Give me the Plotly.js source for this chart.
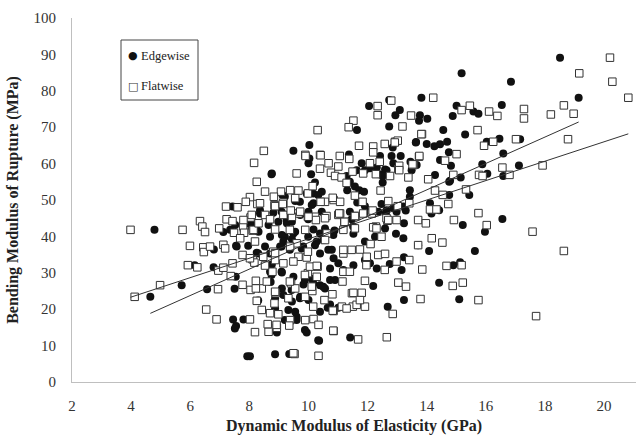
<!DOCTYPE html>
<html><head><meta charset="utf-8">
<script src="https://cdn.plot.ly/plotly-3.0.1.min.js"></script>
<style>html,body{margin:0;padding:0;background:#fff}#chart{width:636px;height:436px}</style>
</head><body><div id="chart"></div>
<script>
// Edgewise (filled circles): dynamic MOE (GPa), bending MOR (MPa)
const edgeX = [4.79,4.65,5.71,6.15,6.79,6.80,6.57,7.12,7.55,7.96,8.25,7.54,7.50,7.45,7.80,7.55,7.51,7.93,7.96,8.13,7.43,8.87,9.35,9.94,10.36,11.41,8.93,8.87,9.60,9.55,9.32,8.87,9.44,9.72,9.83,9.10,8.72,9.10,8.76,10.13,10.39,10.65,10.73,11.01,11.18,10.56,10.73,10.85,10.90,8.30,8.25,8.70,9.20,9.49,9.99,10.39,10.84,11.52,11.91,12.25,12.96,13.21,12.59,13.23,12.98,14.17,8.36,8.81,9.26,9.99,11.40,9.09,9.37,9.82,10.28,10.39,10.67,11.01,11.52,11.91,12.31,13.15,8.70,9.09,8.75,9.49,9.88,10.16,10.50,10.73,9.43,9.15,9.71,10.00,10.39,9.60,9.20,12.19,13.23,12.68,9.88,10.33,8.30,8.70,14.08,14.42,8.02,9.49,8.76,10.09,10.22,10.45,9.94,9.55,9.12,8.36,10.17,10.45,9.72,9.27,8.98,8.65,8.08,7.80,7.35,8.31,9.27,10.17,10.56,10.88,9.10,9.55,9.44,7.57,8.53,9.15,9.44,9.04,9.77,10.22,10.51,10.79,10.03,7.52,13.82,12.05,12.73,13.09,12.94,13.77,13.74,14.02,11.64,12.73,14.56,13.64,12.85,14.00,14.26,14.45,10.03,10.00,11.37,12.42,12.81,13.12,14.45,11.80,12.08,8.75,11.29,11.40,11.91,12.31,12.59,12.40,12.51,11.57,11.72,11.88,11.31,11.91,12.47,12.62,12.87,13.21,13.43,13.43,13.49,13.66,14.28,14.76,14.11,10.16,9.71,9.20,8.92,9.09,10.00,10.11,10.33,13.63,14.69,14.75,13.45,12.87,12.64,11.63,12.51,14.76,14.42,14.16,11.65,11.96,12.36,12.64,13.29,11.46,11.51,13.71,13.23,12.75,12.08,14.90,15.10,18.51,15.18,16.85,19.14,15.01,15.58,16.54,14.88,15.75,15.30,16.03,16.46,17.16,14.82,16.59,15.88,17.12,15.15,14.79,16.05,16.59,15.44,16.56,15.22,15.97,15.63,15.13];
const edgeY = [41.8,23.4,26.6,32.1,31.5,36.4,25.5,41.2,37.4,37.4,35.5,28.9,25.6,17.2,17.2,15.4,14.7,7.1,43.6,43.1,48.2,7.6,7.7,13.6,11.3,12.2,13.6,20.2,17.0,19.3,19.8,23.0,22.1,23.4,26.8,25.7,27.5,30.1,32.3,28.3,26.6,20.4,21.3,20.4,30.8,25.7,31.2,34.0,28.0,22.4,41.8,39.9,39.9,40.8,39.9,40.8,40.4,40.7,38.6,39.9,40.7,39.5,42.2,43.6,46.8,46.8,46.3,46.5,44.5,44.7,46.8,37.2,36.3,37.2,38.6,35.3,36.3,32.6,32.1,33.5,31.2,30.8,30.3,30.3,29.4,28.9,28.0,27.1,26.2,28.0,25.3,23.9,23.0,22.5,19.3,17.9,17.0,26.4,22.5,20.7,14.3,11.5,35.3,35.3,36.0,27.3,7.1,63.5,57.3,57.1,54.8,52.3,51.8,49.7,51.4,47.2,49.1,46.8,45.9,45.9,44.0,43.1,42.5,41.9,41.8,41.3,43.6,41.9,42.2,41.6,40.4,41.3,44.0,37.2,37.2,38.6,39.2,37.2,36.7,37.6,39.0,36.3,65.1,43.1,78.1,75.8,77.5,74.7,73.3,73.3,71.8,72.3,69.2,70.2,69.2,65.9,64.4,65.4,64.8,65.3,61.4,60.1,62.5,62.1,62.1,62.1,61.0,60.1,58.7,57.1,56.6,55.0,58.2,58.9,58.4,57.1,54.8,53.7,52.7,52.3,52.7,48.3,48.9,46.5,47.7,48.2,52.7,50.9,58.2,59.6,56.9,51.4,49.1,51.8,49.5,50.9,48.2,46.8,46.8,48.6,51.4,65.8,66.0,63.1,60.5,60.1,58.2,58.2,56.6,55.0,47.2,46.3,49.3,46.8,46.8,47.2,47.1,44.7,42.7,37.6,34.3,32.4,32.6,32.1,22.7,89.1,84.8,82.5,78.1,75.9,74.3,76.1,73.1,73.7,68.0,66.0,66.8,66.7,59.4,62.8,59.8,59.5,56.2,55.3,57.2,56.6,51.4,44.8,43.1,41.3,36.0,32.9];

// Flatwise (open squares)
const flatX = [3.98,5.74,6.33,6.41,6.50,7.23,7.43,6.98,7.48,7.79,7.82,8.04,8.11,5.99,6.44,6.46,6.67,7.12,8.19,5.92,6.24,6.95,7.12,7.43,7.77,8.11,8.17,4.98,4.12,6.94,7.77,8.04,7.37,8.22,8.25,6.54,6.89,8.02,8.19,8.16,8.25,8.02,7.21,7.60,8.27,9.53,10.34,10.85,8.65,8.62,8.93,8.42,8.70,8.98,9.38,9.89,10.17,10.34,9.35,8.89,8.85,9.32,9.89,10.13,9.41,8.42,8.59,8.78,8.53,8.22,10.54,10.85,11.13,11.50,11.15,11.47,10.81,10.31,9.98,10.11,9.55,8.53,9.15,9.66,10.22,10.61,11.01,11.21,11.61,12.28,12.67,12.98,13.71,13.97,14.17,14.53,13.71,10.84,11.68,12.65,12.85,13.79,14.67,13.85,13.04,13.30,11.91,11.29,10.82,8.87,9.37,8.92,10.16,11.63,11.91,11.52,11.80,11.74,12.36,12.59,11.97,11.18,11.46,11.74,11.18,11.40,10.28,9.88,9.66,9.94,10.05,10.28,9.60,9.37,8.81,8.02,8.47,8.87,9.15,9.49,12.98,13.41,9.49,8.53,9.07,9.38,9.60,9.89,10.39,10.68,11.01,7.88,8.36,8.85,9.15,9.55,9.98,10.56,10.85,11.07,7.80,8.70,9.44,9.72,9.98,10.25,10.56,11.07,11.22,8.14,8.31,8.87,9.89,10.62,11.18,7.69,9.38,9.98,10.56,11.18,7.18,8.87,14.22,12.34,12.34,12.80,13.47,11.52,11.36,10.31,13.18,13.84,12.93,13.02,12.58,11.71,12.19,12.19,8.49,9.90,10.41,11.06,11.38,13.74,14.62,10.39,8.83,9.66,10.14,10.41,10.82,10.76,10.90,11.12,11.29,11.49,11.85,12.08,12.28,12.76,13.04,13.38,13.55,14.05,14.28,14.54,12.44,12.70,13.02,13.41,14.11,11.83,11.57,8.87,9.13,9.40,10.00,11.04,12.14,12.64,8.08,13.82,12.92,15.01,13.75,13.52,12.41,13.07,13.07,14.90,14.73,14.33,12.17,11.85,11.57,11.57,12.19,12.30,12.47,12.70,14.92,12.10,11.96,12.58,20.20,19.16,20.28,20.82,15.18,15.46,16.11,16.39,17.29,17.29,18.20,18.64,18.97,15.72,15.94,16.25,17.02,18.78,16.56,17.92,15.77,15.89,16.80,15.33,15.75,16.03,17.58,18.64,15.18,14.88,15.22,15.75,17.70];
const flatY = [41.8,41.8,44.2,42.7,41.2,44.7,44.2,42.2,41.0,42.9,41.0,45.2,41.6,37.4,37.0,35.7,37.2,37.7,38.6,32.1,31.5,30.6,31.4,32.6,34.9,33.7,32.8,26.6,23.4,25.5,26.7,25.3,29.1,27.8,22.3,19.9,17.2,17.2,13.7,60.2,55.0,50.8,48.2,48.0,48.9,7.7,7.2,14.0,13.8,15.9,14.9,19.8,18.9,18.6,17.0,17.0,17.3,15.7,15.5,24.4,21.6,23.0,23.4,25.0,27.1,25.7,27.6,30.3,32.0,25.7,22.5,19.5,20.7,20.7,27.6,24.4,24.1,31.7,29.9,26.2,25.7,45.9,45.9,46.3,45.4,45.6,45.9,44.0,45.6,42.7,44.3,44.5,44.5,43.6,39.5,38.3,37.6,14.1,11.7,12.3,18.7,22.8,31.9,30.9,27.3,26.2,27.8,20.2,19.6,24.8,27.6,15.7,20.7,21.2,20.7,24.5,24.5,22.5,34.9,35.2,34.4,35.3,36.3,36.4,30.3,30.3,28.9,29.4,34.4,34.2,31.7,31.9,38.1,41.8,35.8,34.0,34.4,33.5,32.6,33.1,33.1,33.5,7.9,52.3,52.3,52.7,57.3,62.4,62.4,60.1,59.2,49.5,49.1,48.6,49.3,50.5,51.8,49.5,50.0,49.5,44.5,44.7,45.4,46.8,45.4,44.5,45.0,46.3,44.0,41.8,43.6,41.9,41.8,40.8,41.8,39.5,37.2,35.8,39.0,36.3,36.7,35.4,78.1,75.8,73.3,77.3,73.2,71.8,70.0,69.2,70.2,68.1,66.0,66.3,65.4,64.9,64.7,63.1,63.5,62.1,62.3,62.1,61.3,61.9,60.8,58.6,50.9,52.6,53.8,49.5,50.6,57.5,56.6,56.2,54.7,57.8,57.3,60.1,57.1,56.6,58.5,56.2,59.6,55.7,52.6,51.4,52.6,49.7,48.3,49.1,47.4,49.5,51.2,48.3,48.9,47.1,45.4,46.3,46.3,45.0,45.9,68.1,65.8,62.6,62.1,59.8,60.5,59.4,58.2,56.9,48.9,47.4,47.1,46.3,45.6,42.2,42.5,42.2,39.9,44.5,44.5,37.9,32.1,30.8,89.1,84.8,82.5,78.1,74.7,75.9,74.3,73.1,75.0,72.4,73.5,76.0,73.7,69.2,64.9,66.0,66.7,66.7,58.9,59.5,56.9,56.6,56.9,52.9,46.4,43.1,41.3,36.0,32.1,26.4,27.3,22.5,18.1];

// Linear trend lines: [slope, intercept]
const edgeTrend = [3.628, 1.99];
const flatTrend = [2.666, 12.67];

const xTicks = [2,4,6,8,10,12,14,16,18,20];
const yTicks = [0,10,20,30,40,50,60,70,80,90,100];
const seriesNames = ['Edgewise','Flatwise'];

function trendLine(xs, coef){
  const lo = Math.min(...xs), hi = Math.max(...xs);
  return {x:[lo,hi], y:[coef[0]*lo+coef[1], coef[0]*hi+coef[1]]};
}
const eT = trendLine(edgeX, edgeTrend), fT = trendLine(flatX, flatTrend);
const serif = 'Liberation Serif, Times New Roman, serif';

const traces = [
  {x:edgeX, y:edgeY, type:'scatter', mode:'markers', name:seriesNames[0], showlegend:false,
   marker:{symbol:'circle', size:8, color:'#111', line:{width:0}}},
  {x:flatX, y:flatY, type:'scatter', mode:'markers', name:seriesNames[1], showlegend:false,
   marker:{symbol:'square', size:7.5, color:'#fff', line:{width:1, color:'#333'}}},
  {x:eT.x, y:eT.y, type:'scatter', mode:'lines', showlegend:false, hoverinfo:'skip',
   line:{color:'#333', width:1}},
  {x:fT.x, y:fT.y, type:'scatter', mode:'lines', showlegend:false, hoverinfo:'skip',
   line:{color:'#333', width:1}}
];

// legend box drawn in paper coordinates
const px = v => (v-72)/564, py = v => (382-v)/364;
const layout = {
  width:636, height:436,
  margin:{l:72, r:0, t:18, b:54},
  paper_bgcolor:'#fff', plot_bgcolor:'#fff',
  font:{family:serif, color:'#222'},
  showlegend:false,
  shapes:[{type:'rect', xref:'paper', yref:'paper', x0:px(121), x1:px(198), y0:py(100), y1:py(40),
    line:{color:'#444', width:1}, fillcolor:'#fff', layer:'above'}],
  annotations:[
    {xref:'paper', yref:'paper', x:px(133), y:py(56), text:'●', showarrow:false, xanchor:'center', yanchor:'middle',
     font:{family:'DejaVu Sans', size:11, color:'#111'}},
    {xref:'paper', yref:'paper', x:px(139), y:py(56), text:seriesNames[0], showarrow:false, xanchor:'left', yanchor:'middle',
     font:{family:serif, size:12.5, color:'#222'}},
    {xref:'paper', yref:'paper', x:px(133), y:py(86), text:'□', showarrow:false, xanchor:'center', yanchor:'middle',
     font:{family:'DejaVu Sans', size:11, color:'#333'}},
    {xref:'paper', yref:'paper', x:px(139), y:py(86), text:seriesNames[1], showarrow:false, xanchor:'left', yanchor:'middle',
     font:{family:serif, size:12.5, color:'#222'}}
  ],
  xaxis:{range:[2,21.08], tickvals:xTicks, ticktext:xTicks.map(String), showgrid:false, zeroline:false,
    showline:true, linecolor:'#bfbfbf', linewidth:1, ticks:'', ticklabelstandoff:10,
    tickfont:{family:serif, size:15, color:'#333'},
    title:{text:'<b>Dynamic Modulus of Elasticity (GPa)</b>', font:{family:serif, size:16, color:'#222'}, standoff:6}},
  yaxis:{range:[0,100], tickvals:yTicks, ticktext:yTicks.map(String), showgrid:false, zeroline:false,
    showline:true, linecolor:'#bfbfbf', linewidth:1, ticks:'', ticklabelstandoff:12,
    tickfont:{family:serif, size:15, color:'#333'},
    title:{text:'<b>Bending Modulus of Rupture (MPa)</b>', font:{family:serif, size:16, color:'#222'}, standoff:10}}
};
Plotly.newPlot('chart', traces, layout, {displayModeBar:false, staticPlot:true});
</script></body></html>
